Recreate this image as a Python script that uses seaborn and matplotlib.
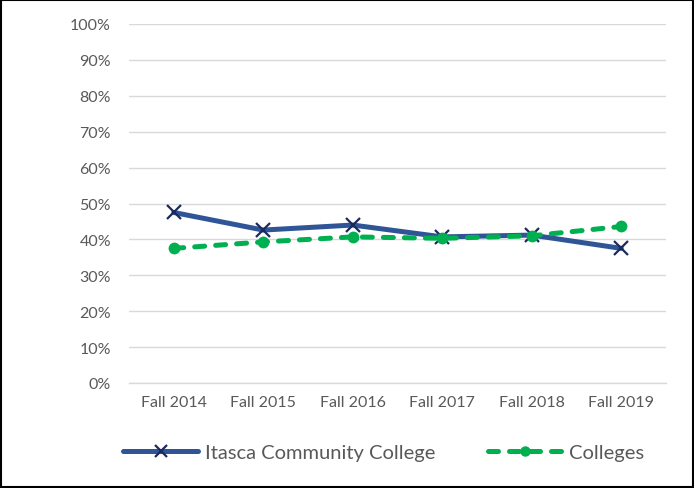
import matplotlib
matplotlib.use("Agg")
import matplotlib.pyplot as plt
import seaborn as sns
import pandas as pd
from matplotlib.patches import Rectangle
from matplotlib.lines import Line2D

years = ["Fall 2014", "Fall 2015", "Fall 2016", "Fall 2017", "Fall 2018", "Fall 2019"]
itasca = [0.475, 0.426, 0.440, 0.407, 0.412, 0.375]
colleges = [0.375, 0.393, 0.407, 0.403, 0.410, 0.436]
series_names = ["Itasca Community College", "Colleges"]

sns.set_theme(style="white")
plt.rcParams['font.family'] = ['Lato', 'DejaVu Sans']

fig = plt.figure(figsize=(6.94, 4.89), dpi=100)
ax = fig.add_axes([129/694, 1-384/489, (666-129)/694, (384-25)/489])

df1 = pd.DataFrame({"year": years, "value": itasca})
df2 = pd.DataFrame({"year": years, "value": colleges})

dash = (0, (2.0, 2.2))

sns.lineplot(data=df1, x="year", y="value", ax=ax, color="#2F5597", linewidth=3.6,
             marker="x", markersize=10, markeredgewidth=1.6, markeredgecolor="#1B2A5E", sort=False)
sns.lineplot(data=df2, x="year", y="value", ax=ax, color="#00B050", linewidth=3.6,
             linestyle=dash, dash_capstyle="round",
             marker="o", markersize=8.5, markeredgewidth=0, markerfacecolor="#00B050", sort=False)

ax.set_xlim(-0.5, 5.5)
ax.set_ylim(0, 1.0)
ax.set_yticks([i/10 for i in range(11)])
ax.set_yticklabels([f"{i*10}%" for i in range(11)])
ax.yaxis.grid(True, color="#D9D9D9", linewidth=1)
ax.xaxis.grid(False)
for s in ["top", "right", "left"]:
    ax.spines[s].set_visible(False)
ax.spines["bottom"].set_color("#D9D9D9")
ax.spines["bottom"].set_linewidth(1)
ax.tick_params(axis="both", length=0, labelsize=11.5, labelcolor="#595959")
ax.tick_params(axis="y", pad=13)
ax.tick_params(axis="x", pad=9)
ax.set_xlabel("")
ax.set_ylabel("")

handles = [
    Line2D([], [], color="#2F5597", linewidth=3.6, marker="x", markersize=8,
           markeredgewidth=1.6, markeredgecolor="#1B2A5E", solid_capstyle="round"),
    Line2D([], [], color="#00B050", linewidth=3.6, linestyle=dash, dash_capstyle="round",
           marker="o", markersize=7.5, markeredgewidth=0),
]
fig.legend(handles, series_names, loc="center", bbox_to_anchor=(0.553, 1-453/489), ncol=2,
           frameon=False, fontsize=14.5, labelcolor="#595959", handlelength=3.7,
           columnspacing=2.6, handletextpad=0.35)

fig.patches.append(Rectangle((0.002, 0.002), 0.996, 0.996, transform=fig.transFigure,
                             fill=False, edgecolor="black", linewidth=1.5))

fig.savefig("out.png", dpi=100)
